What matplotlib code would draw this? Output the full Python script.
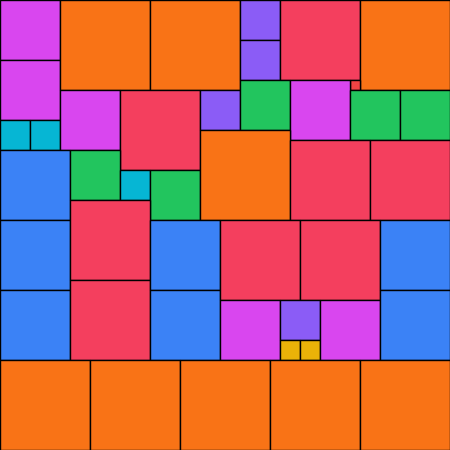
import matplotlib
matplotlib.use("Agg")
import matplotlib.pyplot as plt
from matplotlib.patches import Rectangle

# square tiles: left, top, side (pixel grid of a 450 x 450 board), colour group
xs = [0, 0, 0, 30, 60, 150, 240, 240, 280, 360, 350,
      60, 120, 200, 240, 290, 350, 400,
      0, 70, 120, 150, 200, 290, 370,
      0, 0, 70, 70, 150, 150, 220, 300, 220, 280, 280, 300, 320, 380, 380,
      0, 90, 180, 270, 360]
ys = [0, 60, 120, 120, 0, 0, 0, 40, 0, 0, 80,
      90, 90, 90, 80, 80, 90, 90,
      150, 150, 170, 170, 130, 140, 140,
      220, 290, 200, 280, 220, 290, 220, 220, 300, 300, 340, 340, 300, 220, 290,
      360, 360, 360, 360, 360]
sides = [60, 60, 30, 30, 90, 90, 40, 40, 80, 90, 10,
         60, 80, 40, 50, 60, 50, 50,
         70, 50, 30, 50, 90, 80, 80,
         70, 70, 80, 80, 70, 70, 80, 80, 60, 40, 20, 20, 60, 70, 70,
         90, 90, 90, 90, 90]
groups = ["fuchsia", "fuchsia", "cyan", "cyan", "orange", "orange", "violet", "violet", "rose", "orange", "red",
          "fuchsia", "rose", "violet", "green", "fuchsia", "green", "green",
          "blue", "green", "cyan", "green", "orange", "rose", "rose",
          "blue", "blue", "rose", "rose", "blue", "blue", "rose", "rose", "fuchsia", "violet", "yellow", "yellow",
          "fuchsia", "blue", "blue",
          "orange", "orange", "orange", "orange", "orange"]

palette = {
    "fuchsia": "#d946ef",
    "orange": "#f97316",
    "rose": "#f43f5e",
    "red": "#ef4444",
    "violet": "#8b5cf6",
    "green": "#22c55e",
    "cyan": "#06b6d4",
    "blue": "#3b82f6",
    "yellow": "#eab308",
}

fig = plt.figure(figsize=(4.5, 4.5), dpi=100)
ax = fig.add_axes([0, 0, 1, 1])
ax.set_xlim(0, 450)
ax.set_ylim(450, 0)
ax.axis("off")

for x, y, s, g in zip(xs, ys, sides, groups):
    ax.add_patch(Rectangle((x, y), s, s, fc=palette[g], ec="black", lw=1.0))

fig.savefig("out.png", dpi=100)
